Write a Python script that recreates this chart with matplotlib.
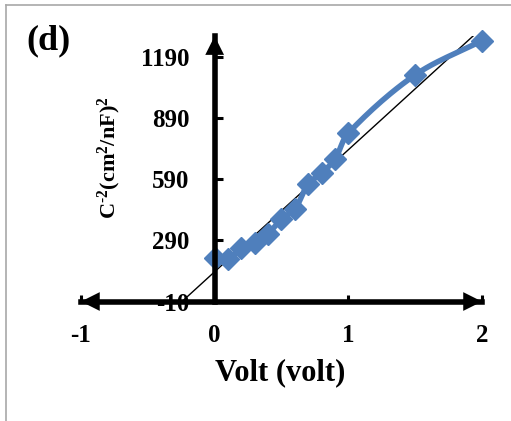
import numpy as np
import matplotlib
matplotlib.use('Agg')
import matplotlib.pyplot as plt
from matplotlib.lines import Line2D

# Mott-Schottky data
volt = [0.0, 0.1, 0.2, 0.3, 0.4, 0.5, 0.6, 0.7, 0.8, 0.9, 1.0, 1.5, 2.0]
c_inv2 = [203, 198, 251, 276, 322, 394, 443, 566, 619, 687, 815, 1100, 1268]
x_ticks = [-1, 0, 1, 2]
y_ticks = [-10, 290, 590, 890, 1190]

BLUE = '#4F7FBC'

plt.rcParams['font.family'] = ['Liberation Serif', 'DejaVu Serif']
plt.rcParams['font.weight'] = 'bold'
plt.rcParams['axes.unicode_minus'] = False
plt.rcParams['mathtext.fontset'] = 'custom'
plt.rcParams['mathtext.rm'] = 'Liberation Serif:bold'
plt.rcParams['mathtext.default'] = 'rm'


def smooth(x, y, sx=1.0, sy=1.0, n=24):
    """Bezier curve through the points, tangents scaled by segment length (Excel-like)."""
    p = np.column_stack([np.asarray(x, float), np.asarray(y, float)])
    p = np.vstack([p[0], p, p[-1]])
    scale = np.array([sx, sy])
    dist = lambda a, b: np.hypot(*((b - a) * scale)) + 1e-9
    t = np.linspace(0, 1, n)[:, None]
    pts = []
    for i in range(1, len(p) - 2):
        p0, p1, p2, p3 = p[i - 1], p[i], p[i + 1], p[i + 2]
        d01, d12, d23 = dist(p0, p1), dist(p1, p2), dist(p2, p3)
        c1 = p1 + (p2 - p0) * d12 / (3 * (d01 + d12))
        c2 = p2 - (p3 - p1) * d12 / (3 * (d12 + d23))
        seg = ((1 - t) ** 3 * p1 + 3 * (1 - t) ** 2 * t * c1
               + 3 * (1 - t) * t ** 2 * c2 + t ** 3 * p2)
        pts.append(seg)
    pts = np.vstack(pts)
    return pts[:, 0], pts[:, 1]


def plot_chart():
    fig = plt.figure(figsize=(5.11, 4.21), dpi=100)
    ax = fig.add_axes([0.1585, 0.2838, 0.7847, 0.6304])

    # linear trendline (extended both ways, clipped by the axes)
    slope, icpt = np.polyfit(volt, c_inv2, 1)
    tx = np.array([-1.0, 2.0])
    ax.plot(tx, slope * tx + icpt, color='black', lw=1.0, zorder=2)

    # screen scale so the tangents follow what is seen on the page
    lx, ly = smooth(volt, c_inv2, sx=401 / 3.0, sy=265 / 1300.0)
    ax.plot(lx, ly, color=BLUE, lw=4, solid_capstyle='round', zorder=3, clip_on=False)
    ax.plot(volt, c_inv2, 'D', color=BLUE, markersize=11, zorder=4, clip_on=False)

    ax.set_xlim(-1, 2)
    ax.set_ylim(-10, 1290)
    ax.set_xticks(x_ticks)
    ax.set_yticks(y_ticks)

    for side in ('top', 'right'):
        ax.spines[side].set_visible(False)
    ax.spines['left'].set_position(('data', 0))
    for side in ('left', 'bottom'):
        ax.spines[side].set_linewidth(4)
        ax.spines[side].set_zorder(5)

    ax.tick_params(axis='y', direction='in', length=6, width=2.2, pad=18, labelsize=18)
    ax.tick_params(axis='x', direction='in', length=5, width=2.2, pad=16, labelsize=18)

    # arrow heads on the axes
    head = dict(arrowstyle='-|>,head_length=0.9,head_width=0.45', lw=0,
                color='black', shrinkA=0, shrinkB=0, mutation_scale=15)
    ax.annotate('', xy=(1, 0), xytext=(0.9, 0), xycoords='axes fraction', arrowprops=head)
    ax.annotate('', xy=(0, 0), xytext=(0.1, 0), xycoords='axes fraction', arrowprops=head)
    ax.annotate('', xy=(0, 1), xytext=(0, 0.9), xycoords=('data', 'axes fraction'),
                arrowprops=head)

    ax.text(0.072, 0.544, 'C$^{\\text{-2}}$(cm$^{2}$/nF)$^{2}$', transform=ax.transAxes,
            rotation=90, ha='center', va='center', fontsize=16, fontweight='bold')
    ax.text(0.496, -0.27, 'Volt (volt)', transform=ax.transAxes,
            ha='center', va='center', fontsize=22, fontweight='bold')
    fig.text(49 / 511, 1 - 41 / 421, '(d)', ha='center', va='center',
             fontsize=26, fontweight='bold')

    # grey frame of the chart area
    fig.add_artist(Line2D([6 / 511, 6 / 511], [0, 1 - 5 / 421], color='#A8A8A8', lw=1.2))
    fig.add_artist(Line2D([6 / 511, 1], [1 - 5 / 421, 1 - 5 / 421], color='#A8A8A8', lw=1.2))

    fig.savefig('out.png', dpi=100)


def main():
    plot_chart()


if __name__ == "__main__":
    main()
